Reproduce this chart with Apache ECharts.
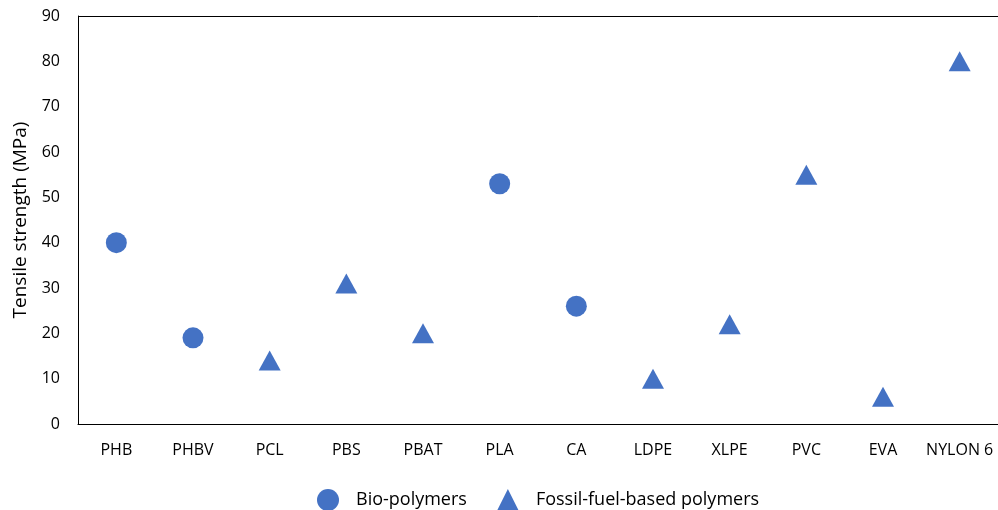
<!DOCTYPE html>
<html>
<head>
<meta charset="utf-8">
<script src="https://cdn.jsdelivr.net/npm/echarts@6/dist/echarts.min.js"></script>
<style>
  html, body { margin: 0; padding: 0; background: #fff; }
  #chart { width: 998px; height: 510px; }
</style>
</head>
<body>
<div id="chart"></div>
<script>
var categories = ['PHB', 'PHBV', 'PCL', 'PBS', 'PBAT', 'PLA', 'CA', 'LDPE', 'XLPE', 'PVC', 'EVA', 'NYLON 6'];
var bioNames = ['PHB', 'PHBV', 'PLA', 'CA'];
var bioValues = [40, 19, 53, 26];
var fossilNames = ['PCL', 'PBS', 'PBAT', 'LDPE', 'XLPE', 'PVC', 'EVA', 'NYLON 6'];
var fossilValues = [14, 31, 20, 10, 22, 55, 6, 80];

var chart = echarts.init(document.getElementById('chart'));
var font = '"Open Sans", "Noto Sans", sans-serif';
var blue = '#4472C4';

var option = {
    textStyle: { fontFamily: font },
    animation: false,
    grid: { left: 78, right: -2, top: 16, bottom: 86 },
    legend: {
        top: 484,
        left: 312,
        itemGap: 30,
        itemWidth: 22,
        itemHeight: 22,
        textStyle: { fontSize: 18, color: '#000', fontFamily: font, padding: [0, 0, 0, 12] },
        data: [
            { name: 'Bio-polymers', icon: 'circle' },
            { name: 'Fossil-fuel-based polymers', icon: 'triangle' }
        ]
    },
    xAxis: {
        type: 'category',
        data: categories,
        boundaryGap: true,
        axisLine: { show: true, lineStyle: { color: '#000', width: 1 } },
        axisTick: { show: false },
        axisLabel: { color: '#000', fontSize: 16, margin: 18, interval: 0, fontFamily: font },
        splitLine: { show: false }
    },
    yAxis: {
        type: 'value',
        min: 0,
        max: 90,
        interval: 10,
        name: 'Tensile strength (MPa)',
        nameLocation: 'middle',
        nameGap: 48,
        nameTextStyle: { fontSize: 19, color: '#000', fontFamily: font },
        axisLine: { show: true, lineStyle: { color: '#000', width: 1 } },
        axisTick: { show: false },
        axisLabel: { color: '#000', fontSize: 16, margin: 18, fontFamily: font },
        splitLine: { show: false }
    },
    series: [
        {
            name: 'Bio-polymers',
            type: 'scatter',
            symbol: 'circle',
            symbolSize: 21,
            itemStyle: { color: blue, opacity: 1 },
            data: bioNames.map(function (n, i) { return [n, bioValues[i]]; })
        },
        {
            name: 'Fossil-fuel-based polymers',
            type: 'scatter',
            symbol: 'triangle',
            symbolSize: [22, 20],
            itemStyle: { color: blue, opacity: 1 },
            data: fossilNames.map(function (n, i) { return [n, fossilValues[i]]; })
        }
    ],
    graphic: [
        {
            type: 'line',
            shape: { x1: 78.5, y1: 16.5, x2: 998, y2: 16.5 },
            style: { stroke: '#000', lineWidth: 1 }
        }
    ]
};

chart.setOption(option);
</script>
</body>
</html>
